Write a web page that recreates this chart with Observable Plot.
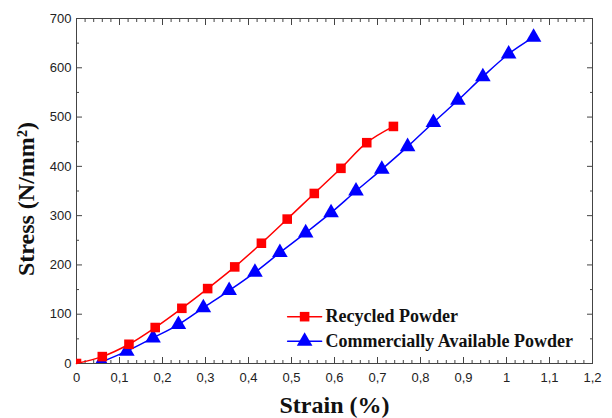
<!DOCTYPE html>
<html><head><meta charset="utf-8">
<script src="https://cdn.jsdelivr.net/npm/d3@7"></script>
<script src="https://cdn.jsdelivr.net/npm/@observablehq/plot@0.6"></script>
<style>body{margin:0;background:#fff;overflow:hidden} svg{display:block}</style>
</head><body><div id="chart"></div>
<script>
// ---- data ----
const recycledStrain = [0, 0.06, 0.122, 0.183, 0.245, 0.305, 0.368, 0.43, 0.49, 0.553, 0.615, 0.675, 0.737];
const recycledStress = [0, 14, 39, 73, 112, 152, 196, 244, 293, 345, 396, 448, 481];
const commercialStrain = [0.058, 0.117, 0.178, 0.237, 0.295, 0.355, 0.415, 0.473, 0.533, 0.592, 0.65, 0.71, 0.77, 0.83, 0.887, 0.945, 1.005, 1.063];
const commercialStress = [3, 25, 52, 79, 113, 148, 185, 225, 265, 306, 350, 394, 440, 489, 534, 582, 628, 662];
const seriesNames = ["Recycled Powder", "Commercially Available Powder"];
const seriesColors = ["#ff0000", "#0000ff"];
const seriesSymbols = ["square", "triangle"];
const xTicks = [0, 0.1, 0.2, 0.3, 0.4, 0.5, 0.6, 0.7, 0.8, 0.9, 1, 1.1, 1.2];
const xMinorTicks = d3.range(0, 61).map(i => i * 0.02);
const yTicks = [0, 100, 200, 300, 400, 500, 600, 700];
const yMinorTicks = [50, 150, 250, 350, 450, 550, 650];
const xTitle = "Strain (%)";
const yTitle = "Stress (N/mm²)";
// legend anchor positions in data units
const legendLineX = [0.491, 0.570];
const legendY = [95, 45];

const recycled = recycledStrain.map((x, i) => ({x, y: recycledStress[i]}));
const commercial = commercialStrain.map((x, i) => ({x, y: commercialStress[i]}));
const legend = seriesNames.map((name, i) => ({name, color: seriesColors[i], symbol: seriesSymbols[i], y: legendY[i]}));
const legendLines = legend.flatMap(d => legendLineX.map(x => ({...d, x})));
const legendMidX = (legendLineX[0] + legendLineX[1]) / 2;

const fmt = d => (+d.toFixed(2)).toString().replace(".", ",");
const blank = () => "";
const sans = "Liberation Sans, Arial, sans-serif";
const serif = "Liberation Serif, Times New Roman, serif";
const tickOpts = {tickFormat: blank, label: null, stroke: "#444"};

const chart = Plot.plot({
  width: 612, height: 418,
  marginLeft: 76, marginRight: 20, marginTop: 18, marginBottom: 55,
  x: {domain: [0, 1.2]},
  y: {domain: [0, 700]},
  style: {background: "#fff"},
  marks: [
    // ticks (inward, mirrored)
    Plot.axisX({anchor: "bottom", ticks: xTicks, tickSize: -6, ...tickOpts}),
    Plot.axisX({anchor: "bottom", ticks: xMinorTicks, tickSize: -3, ...tickOpts}),
    Plot.axisX({anchor: "top", ticks: xTicks, tickSize: -6, ...tickOpts}),
    Plot.axisX({anchor: "top", ticks: xMinorTicks, tickSize: -3, ...tickOpts}),
    Plot.axisY({anchor: "left", ticks: yTicks, tickSize: -6, ...tickOpts}),
    Plot.axisY({anchor: "left", ticks: yMinorTicks, tickSize: -3, ...tickOpts}),
    Plot.axisY({anchor: "right", ticks: yTicks, tickSize: -6, ...tickOpts}),
    Plot.axisY({anchor: "right", ticks: yMinorTicks, tickSize: -3, ...tickOpts}),
    // tick labels
    Plot.axisX({anchor: "bottom", ticks: xTicks, tickSize: 0, tickPadding: 9, tickFormat: fmt, label: null, fontSize: 13, fontFamily: sans, fill: "#222"}),
    Plot.axisY({anchor: "left", ticks: yTicks, tickSize: 0, tickPadding: 5, tickFormat: fmt, label: null, fontSize: 13, fontFamily: sans, fill: "#222"}),
    Plot.frame({stroke: "#444", strokeWidth: 1}),
    // series
    Plot.line(commercial, {x: "x", y: "y", stroke: seriesColors[1], strokeWidth: 1.5, curve: "catmull-rom"}),
    Plot.dot(commercial, {x: "x", y: "y", symbol: seriesSymbols[1], r: 5.8, fill: seriesColors[1], clip: true}),
    Plot.line(recycled, {x: "x", y: "y", stroke: seriesColors[0], strokeWidth: 1.5, curve: "catmull-rom"}),
    Plot.dot(recycled, {x: "x", y: "y", symbol: seriesSymbols[0], r: 5.4, fill: seriesColors[0], clip: true}),
    // legend
    Plot.line(legendLines, {x: "x", y: "y", z: "name", stroke: "color", strokeWidth: 1.5}),
    Plot.dot(legend.filter(d => d.symbol === "square"), {x: () => legendMidX, y: "y", symbol: "square", fill: "color", r: 5.4}),
    Plot.dot(legend.filter(d => d.symbol === "triangle"), {x: () => legendMidX, y: "y", symbol: "triangle", fill: "color", r: 5.8}),
    Plot.text(legend, {x: legendLineX[1], y: "y", text: "name", dx: 4, textAnchor: "start", fontSize: 18, fontWeight: "bold", fontFamily: serif, fill: "#111"}),
    // axis titles
    Plot.text([xTitle], {frameAnchor: "bottom", textAnchor: "middle", lineAnchor: "middle", dy: 42, fontSize: 24, fontWeight: "bold", fontFamily: serif, fill: "#111"}),
    Plot.text([yTitle], {frameAnchor: "left", textAnchor: "middle", lineAnchor: "middle", dx: -50, dy: 8, rotate: -90, fontSize: 24, fontWeight: "bold", fontFamily: serif, fill: "#111"})
  ]
});
document.getElementById("chart").appendChild(chart);
</script>
</body></html>
